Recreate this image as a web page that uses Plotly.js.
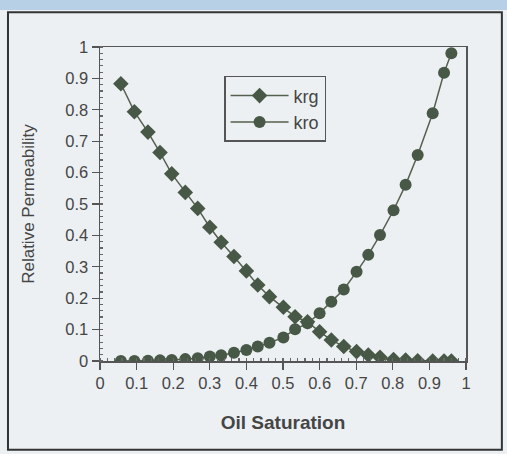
<!DOCTYPE html>
<html>
<head>
<meta charset="utf-8">
<script src="https://cdn.plot.ly/plotly-3.0.1.min.js"></script>
<style>
html,body{margin:0;padding:0;background:#edf0f3;}
#chart{width:507px;height:454px;}
</style>
</head>
<body>
<div id="chart"></div>
<script>
// Oil saturation values (shared by both curves)
const oilSaturation = [0.057,0.094,0.131,0.164,0.196,0.233,0.267,0.300,0.331,0.366,0.400,0.431,0.463,0.501,0.533,0.567,0.600,0.632,0.666,0.701,0.733,0.765,0.802,0.835,0.868,0.909,0.940,0.960];
// Gas relative permeability
const krg = [0.883,0.794,0.729,0.664,0.596,0.537,0.486,0.426,0.378,0.333,0.287,0.242,0.205,0.171,0.141,0.125,0.093,0.067,0.046,0.030,0.019,0.012,0.005,0.003,0.001,0.000,0.000,0.000];
// Oil relative permeability
const kro = [0.000,0.000,0.001,0.002,0.003,0.006,0.009,0.014,0.018,0.026,0.035,0.046,0.058,0.075,0.101,0.120,0.152,0.189,0.228,0.284,0.338,0.401,0.480,0.561,0.656,0.789,0.918,0.980];
const xTicks = [0,0.1,0.2,0.3,0.4,0.5,0.6,0.7,0.8,0.9,1];
const xTickText = ['0','0.1','0.2','0.3','0.4','0.5','0.6','0.7','0.8','0.9','1'];
const yTicks = [0,0.1,0.2,0.3,0.4,0.5,0.6,0.7,0.8,0.9,1];
const yTickText = ['0','0.1','0.2','0.3','0.4','0.5','0.6','0.7','0.8','0.9','1'];

const markColor = '#485846';
const lineColor = '#56604f';
const textColor = '#454545';
const fontFam = 'Liberation Sans, Arial, sans-serif';

const traces = [
  {
    x: oilSaturation, y: krg, name: 'krg', type: 'scatter', mode: 'lines+markers',
    line: {color: lineColor, width: 1.5},
    marker: {symbol: 'diamond', size: 12, color: markColor}
  },
  {
    x: oilSaturation, y: kro, name: 'kro', type: 'scatter', mode: 'lines+markers',
    line: {color: lineColor, width: 1.5},
    marker: {symbol: 'circle', size: 12, color: markColor}
  }
];

const layout = {
  width: 507, height: 454,
  margin: {l: 100, r: 41, t: 47, b: 93},
  paper_bgcolor: '#edf0f3',
  plot_bgcolor: '#edf0f3',
  font: {family: fontFam, color: textColor, size: 16},
  showlegend: true,
  legend: {
    x: 0.339, y: 0.908, xanchor: 'left', yanchor: 'top',
    bgcolor: '#edf0f3', bordercolor: '#555', borderwidth: 1.5,
    font: {family: fontFam, size: 18, color: textColor},
    tracegroupgap: 2, itemwidth: 58
  },
  xaxis: {
    range: [0, 1], tickvals: xTicks, ticktext: xTickText,
    showgrid: false, zeroline: false,
    showline: true, linecolor: '#555', linewidth: 1.5, mirror: true,
    ticks: 'outside', ticklen: 7, tickcolor: '#555', tickwidth: 1.2,
    tickfont: {size: 16.5, color: textColor},
    minor: {dtick: 0.02, ticks: 'inside', ticklen: 3, tickcolor: '#666', showgrid: false},
    title: {text: '<b>Oil Saturation</b>', font: {size: 19, color: textColor}, standoff: 24},
    fixedrange: true
  },
  yaxis: {
    range: [0, 1], tickvals: yTicks, ticktext: yTickText,
    showgrid: false, zeroline: false,
    showline: true, linecolor: '#555', linewidth: 1.5, mirror: true,
    ticks: 'outside', ticklen: 7, tickcolor: '#555', tickwidth: 1.2,
    tickfont: {size: 16.5, color: textColor},
    minor: {dtick: 0.02, ticks: 'inside', ticklen: 3, tickcolor: '#666', showgrid: false},
    title: {text: 'Relative Permeability', font: {size: 17, color: textColor}, standoff: 26},
    fixedrange: true
  },
  shapes: [
    {type: 'rect', xref: 'paper', yref: 'paper', x0: -0.2514, x1: 1.098, y0: -0.283, y1: 1.111,
     line: {color: '#333', width: 2}, fillcolor: 'rgba(0,0,0,0)', layer: 'below'},
    {type: 'rect', xref: 'paper', yref: 'paper', x0: -0.28, x1: 1.12, y0: 1.118, y1: 1.15,
     line: {width: 0}, fillcolor: '#b7d0e6', layer: 'below'}
  ]
};

Plotly.newPlot('chart', traces, layout, {displayModeBar: false, staticPlot: true});
</script>
</body>
</html>
